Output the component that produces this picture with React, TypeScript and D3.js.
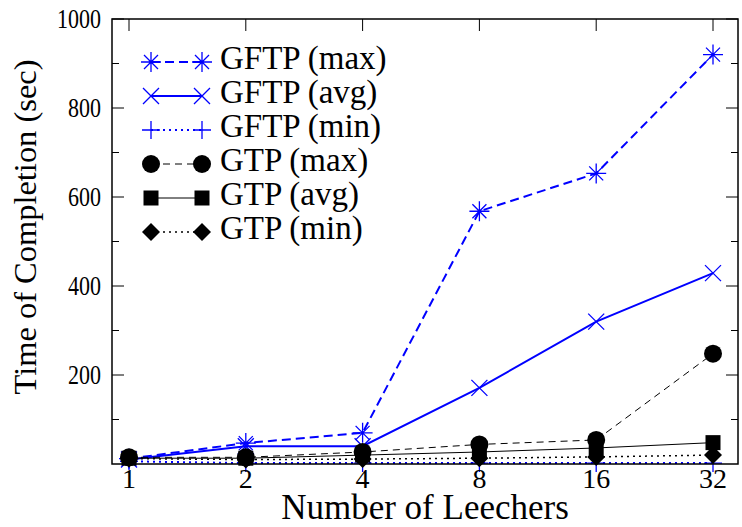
import React from 'react';
import * as d3 from 'd3';

const leechers = [1, 2, 4, 8, 16, 32];
const gftpMax = [12, 47, 70, 568, 653, 920];
const gftpAvg = [10, 40, 40, 171, 320, 429];
const gftpMin = [6, 2, 2, 2, 2, 2];
const gtpMax = [15, 15, 27, 44, 54, 248];
const gtpAvg = [13, 13, 20, 27, 36, 48];
const gtpMin = [12, 10, 11, 13, 16, 20];
const yTicks = [200, 400, 600, 800, 1000];
const yMinorTicks = [100, 300, 500, 700, 900];

const W = 742;
const H = 527;
const left = 112;
const right = 738;
const top = 19;
const bottom = 464;

const x = d3.scaleLog().base(2).domain([1, 32]).range([129, 713]);
const y = d3.scaleLinear().domain([0, 1000]).range([bottom, top]);

const BLUE = '#0000ff';
const FONT = "'Liberation Serif', 'Times New Roman', Times, serif";

type Shape = 'star' | 'cross' | 'plus' | 'circle' | 'square' | 'diamond';

const series: {
  name: string;
  values: number[];
  color: string;
  width: number;
  dash?: string;
  shape: Shape;
}[] = [
  { name: 'GFTP (max)', values: gftpMax, color: BLUE, width: 2, dash: '9,5', shape: 'star' },
  { name: 'GFTP (avg)', values: gftpAvg, color: BLUE, width: 2, shape: 'cross' },
  { name: 'GFTP (min)', values: gftpMin, color: BLUE, width: 2, dash: '2,4', shape: 'plus' },
  { name: 'GTP (max)', values: gtpMax, color: '#000', width: 1, dash: '7,5', shape: 'circle' },
  { name: 'GTP (avg)', values: gtpAvg, color: '#000', width: 1, shape: 'square' },
  { name: 'GTP (min)', values: gtpMin, color: '#000', width: 1.5, dash: '2,4', shape: 'diamond' },
];

function Marker({ shape, cx, cy, color }: { shape: Shape; cx: number; cy: number; color: string }) {
  if (shape === 'circle') return <circle cx={cx} cy={cy} r={9} fill={color} />;
  if (shape === 'square') return <rect x={cx - 7.5} y={cy - 7.5} width={15} height={15} fill={color} />;
  if (shape === 'diamond') {
    const r = 9;
    return <path d={`M${cx},${cy - r}L${cx + r},${cy}L${cx},${cy + r}L${cx - r},${cy}Z`} fill={color} />;
  }
  const r = shape === 'star' ? 10 : 9;
  const d = shape === 'star' ? 7 : 8;
  const plus = `M${cx - r},${cy}H${cx + r}M${cx},${cy - r}V${cy + r}`;
  const cross = `M${cx - d},${cy - d}L${cx + d},${cy + d}M${cx - d},${cy + d}L${cx + d},${cy - d}`;
  const p = shape === 'plus' ? plus : shape === 'cross' ? cross : plus + cross;
  return <path d={p} stroke={color} strokeWidth={1.3} fill="none" />;
}

export default function App() {
  const line = d3
    .line<number>()
    .x((_, i) => x(leechers[i]))
    .y((v) => y(v));

  return (
    <svg width={W} height={H} style={{ position: 'absolute', left: 0, top: 0, fontFamily: FONT }}>
      <rect width={W} height={H} fill="#fff" />

      {/* ticks */}
      {yTicks.map((t) => (
        <g key={t}>
          <line x1={left} x2={left + 12} y1={y(t)} y2={y(t)} stroke="#000" />
          <line x1={right} x2={right - 12} y1={y(t)} y2={y(t)} stroke="#000" />
        </g>
      ))}
      {yMinorTicks.map((t) => (
        <g key={t}>
          <line x1={left} x2={left + 7} y1={y(t)} y2={y(t)} stroke="#000" />
          <line x1={right} x2={right - 7} y1={y(t)} y2={y(t)} stroke="#000" />
        </g>
      ))}
      {leechers.map((t) => (
        <g key={t}>
          <line x1={x(t)} x2={x(t)} y1={top} y2={top + 12} stroke="#000" />
          <line x1={x(t)} x2={x(t)} y1={bottom} y2={bottom - 12} stroke="#000" />
        </g>
      ))}

      {/* series */}
      {series.map((s) => (
        <g key={s.name}>
          <path
            d={line(s.values) || ''}
            fill="none"
            stroke={s.color}
            strokeWidth={s.width}
            strokeDasharray={s.dash}
          />
          {s.values.map((v, i) => (
            <Marker key={i} shape={s.shape} cx={x(leechers[i])} cy={y(v)} color={s.color} />
          ))}
        </g>
      ))}

      {/* frame */}
      <rect x={left} y={top} width={right - left} height={bottom - top} fill="none" stroke="#000" strokeWidth={1.5} />

      {/* tick labels */}
      {yTicks.map((t) => (
        <text key={t} x={101} y={y(t) + 9} textAnchor="end" style={{ fontFamily: FONT, fontSize: 27 }}
          textLength={String(t).length * 11} lengthAdjust="spacingAndGlyphs">
          {t}
        </text>
      ))}
      {leechers.map((t) => (
        <text key={t} x={x(t)} y={488} textAnchor="middle" style={{ fontFamily: FONT, fontSize: 28 }}>
          {t}
        </text>
      ))}

      {/* axis titles */}
      <text x={(left + right) / 2} y={519} textAnchor="middle" style={{ fontFamily: FONT, fontSize: 35 }}>
        Number of Leechers
      </text>
      <text
        transform="translate(36,227) rotate(-90)"
        textAnchor="middle"
        textLength={335}
        lengthAdjust="spacingAndGlyphs"
        style={{ fontFamily: FONT, fontSize: 32 }}
      >
        Time of Completion (sec)
      </text>

      {/* legend */}
      {series.map((s, i) => {
        const ly = 62 + i * 34;
        return (
          <g key={s.name}>
            <line x1={151} x2={202} y1={ly} y2={ly} stroke={s.color} strokeWidth={s.width} strokeDasharray={s.dash} />
            <Marker shape={s.shape} cx={151} cy={ly} color={s.color} />
            <Marker shape={s.shape} cx={202} cy={ly} color={s.color} />
            <text x={220} y={ly + 7} style={{ fontFamily: FONT, fontSize: 33 }}>
              {s.name}
            </text>
          </g>
        );
      })}
    </svg>
  );
}
